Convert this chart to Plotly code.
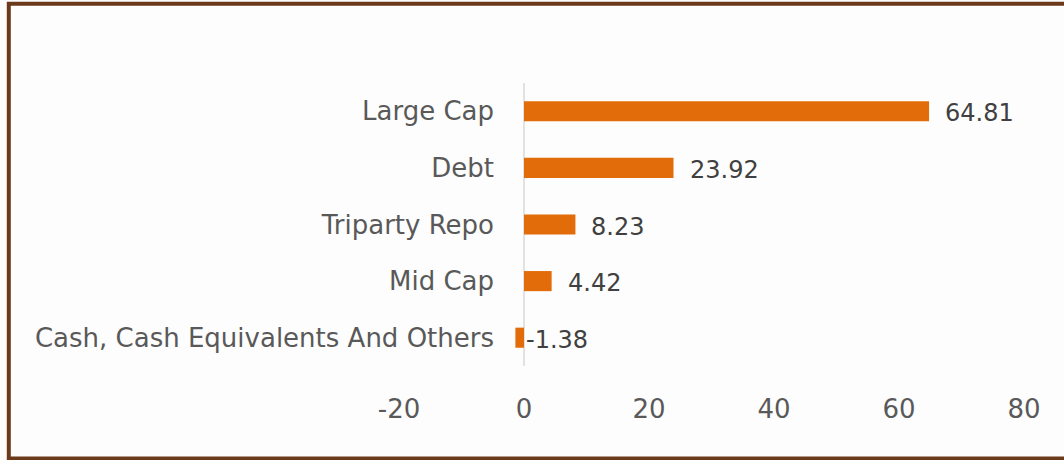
import plotly.graph_objects as go

categories = ["Large Cap", "Debt", "Triparty Repo", "Mid Cap", "Cash, Cash Equivalents And Others"]
values = [64.81, 23.92, 8.23, 4.42, -1.38]
tick_vals = [-20, 0, 20, 40, 60, 80]
tick_text = ["-20", "0", "20", "40", "60", "80"]

W, H = 1064, 460
L, R, T, B = 399, 40, 83, 94
FONT = "DejaVu Sans, Verdana, sans-serif"

fig = go.Figure(go.Bar(
    x=values, y=categories, orientation="h",
    marker=dict(color="#E36C0A", line=dict(width=0)),
    width=0.355, hoverinfo="skip",
))

for c, v in zip(categories, values):
    fig.add_annotation(
        x=max(v, 0), y=c, xref="x", yref="y", text=f"{v:.2f}",
        showarrow=False, xanchor="left", xshift=14 if v > 0 else 0, yshift=-2,
        font=dict(family=FONT, size=24, color="#404040"),
    )

def px2paper_x(p):
    return (p - L) / (W - L - R)

def px2paper_y(p):
    return 1 - (p - T) / (H - T - B)

fig.add_shape(type="path", xref="paper", yref="paper",
              path=(f"M {px2paper_x(1080)} {px2paper_y(3.7)} L {px2paper_x(8.8)} {px2paper_y(3.7)} "
                    f"L {px2paper_x(8.8)} {px2paper_y(458.5)} L {px2paper_x(1080)} {px2paper_y(458.5)}"),
              line=dict(color="#6B3A1A", width=4))

fig.update_layout(
    width=W, height=H,
    margin=dict(l=L, r=R, t=T, b=B, autoexpand=False),
    paper_bgcolor="#FDFDFD", plot_bgcolor="#FDFDFD",
    showlegend=False,
    xaxis=dict(range=[-20, 80], tickvals=tick_vals, ticktext=tick_text, showgrid=False,
               zeroline=False, showline=False, ticks="", ticklabelstandoff=25,
               tickfont=dict(family=FONT, size=26, color="#595959")),
    yaxis=dict(categoryorder="array", categoryarray=categories[::-1], showgrid=False,
               zeroline=False, showline=False, ticks="", ticklabelstandoff=-96,
               tickfont=dict(family=FONT, size=26, color="#595959")),
)
fig.add_vline(x=0, line=dict(color="#D9D9D9", width=1.5), layer="below")

fig.write_html("out.html", config={"displayModeBar": False},
               post_script="document.body.style.margin='0';document.body.style.overflow='hidden';")
